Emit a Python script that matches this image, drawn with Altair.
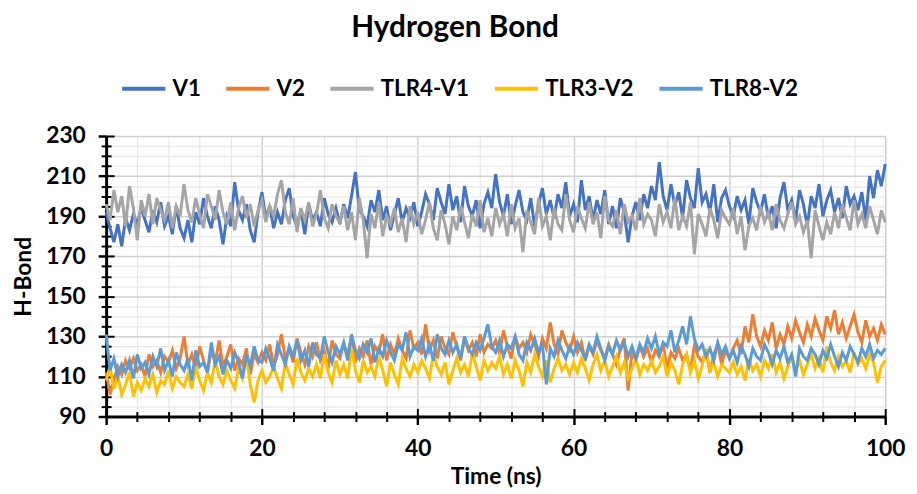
import altair as alt
import pandas as pd

series_names = ["V1", "V2", "TLR4-V1", "TLR3-V2", "TLR8-V2"]
series_colors = ["#4472C4", "#ED7D31", "#A5A5A5", "#FFC000", "#5B9BD5"]

time_ns = [i * 0.5 for i in range(201)]

v1 = [
    192,184,177,186,175,189,183,191,186,194,188,182,193,187,197,185,190,181,195,184,
    179,188,177,192,186,199,190,184,195,188,176,190,185,207,193,188,196,183,177,192,
    202,189,195,184,192,186,198,204,190,185,193,181,196,188,192,185,199,191,187,194,
    186,196,189,200,212,193,190,185,198,192,203,188,195,183,191,199,187,194,189,197,
    185,192,201,196,188,204,197,191,206,193,200,187,205,195,190,198,184,196,202,194,
    211,197,190,201,186,195,203,192,188,199,185,196,204,191,198,189,201,194,207,190,
    196,187,208,193,200,188,198,191,203,186,195,184,199,192,177,190,197,188,201,194,
    205,198,217,200,193,206,195,202,189,208,199,194,214,197,201,192,206,187,199,203,
    195,190,200,193,198,186,204,197,192,201,189,195,184,199,207,193,198,188,203,196,
    185,200,194,206,190,198,203,192,199,189,205,196,200,193,202,188,210,199,213,205,
    216,
]
v2 = [
    112,101,108,115,111,118,114,119,113,116,110,121,115,118,112,120,117,123,114,119,
    130,116,121,114,125,118,112,123,117,128,115,120,126,113,119,116,124,111,121,117,
    122,118,126,115,121,131,119,124,117,129,122,116,125,120,127,118,123,114,128,121,
    119,126,121,130,117,124,120,128,116,125,122,131,118,126,121,129,123,119,133,124,
    127,121,136,123,128,119,130,124,121,132,125,118,129,123,127,120,131,122,126,124,
    128,121,133,125,119,130,124,127,122,131,126,120,129,124,137,126,121,133,127,123,
    130,122,127,118,125,121,128,123,119,126,121,116,124,129,103,122,118,125,120,124,
    117,123,120,126,114,122,119,124,118,121,113,125,120,117,123,112,121,126,116,123,
    119,124,128,121,135,127,141,130,125,133,128,137,124,131,126,135,129,138,132,127,
    136,130,139,133,128,140,134,143,131,137,129,135,141,132,127,138,130,134,128,136,
    131,
]
tlr4_v1 = [
    196,188,203,192,200,185,205,194,178,198,190,201,186,199,193,188,197,184,195,190,
    206,193,187,199,191,184,201,195,188,203,192,186,197,183,194,200,189,196,185,193,
    198,187,195,190,201,208,192,186,199,182,194,188,197,185,191,203,189,184,196,190,
    187,195,183,192,178,199,188,169,191,184,197,180,190,186,194,182,189,177,195,186,
    192,181,188,197,184,178,193,186,176,190,183,195,187,179,191,185,198,182,189,180,
    194,186,191,180,196,184,189,172,193,187,181,199,185,190,178,194,186,183,201,188,
    182,195,189,184,197,186,192,179,200,188,185,193,181,196,187,190,183,199,186,191,
    188,180,196,187,192,184,199,183,190,185,197,171,191,186,180,194,188,179,193,189,
    186,194,181,190,173,185,189,183,195,187,192,183,196,188,184,191,197,186,190,182,
    188,169,193,185,178,187,181,192,184,196,189,183,198,186,191,184,195,188,181,193,
    187,
]
tlr3_v2 = [
    108,115,104,110,101,106,112,100,107,103,109,105,111,102,108,106,113,104,110,107,
    105,111,104,115,108,103,112,107,118,110,106,113,108,104,114,109,120,106,97,108,
    113,107,110,115,109,104,117,111,106,119,112,108,114,110,116,109,121,112,107,118,
    111,116,109,124,113,107,118,112,115,110,120,113,105,117,111,106,119,114,110,116,
    112,118,114,109,121,115,111,117,106,113,119,112,116,110,122,115,108,118,113,117,
    114,120,111,116,109,118,113,105,117,112,121,115,110,118,107,114,119,113,116,111,
    117,112,119,114,108,116,121,113,118,110,115,120,112,117,109,114,119,111,116,113,
    118,112,115,120,110,117,113,106,116,121,112,118,109,115,124,113,117,110,116,114,
    112,117,111,115,108,119,113,116,110,118,114,121,112,117,109,115,120,113,118,111,
    116,121,114,119,112,125,117,113,120,115,118,112,122,116,119,114,121,117,107,115,
    118,
]
tlr8_v2 = [
    131,113,119,110,116,112,118,109,121,114,117,111,120,115,124,113,118,110,122,116,
    113,119,108,123,115,117,112,127,116,120,111,118,114,122,117,109,121,115,125,118,
    117,124,119,113,126,121,116,125,120,128,118,123,115,127,121,119,130,122,117,125,
    121,127,118,131,123,119,126,122,129,117,124,120,128,122,118,126,123,132,120,125,
    123,129,120,126,118,131,124,121,128,122,126,119,130,124,121,127,123,129,136,125,
    122,128,120,126,124,130,121,118,127,123,129,122,126,106,124,120,128,123,119,125,
    121,127,123,119,126,122,130,124,118,125,121,128,123,127,120,125,119,126,122,129,
    124,130,121,127,125,133,122,128,135,126,140,129,123,126,120,124,118,127,121,125,
    119,123,117,125,121,115,124,120,118,126,122,116,123,119,125,117,121,110,124,120,
    118,124,121,116,123,119,126,120,115,122,118,125,121,117,124,120,126,119,123,121,
    124,
]

x_major_ticks = [0, 20, 40, 60, 80, 100]
x_minor_ticks = [4, 8, 12, 16, 24, 28, 32, 36, 44, 48, 52, 56, 64, 68, 72, 76, 84, 88, 92, 96]
y_major_ticks = [90, 110, 130, 150, 170, 190, 210, 230]
y_minor_ticks = [95, 100, 105, 115, 120, 125, 135, 140, 145, 155, 160, 165,
                 175, 180, 185, 195, 200, 205, 215, 220, 225]

all_values = [v1, v2, tlr4_v1, tlr3_v2, tlr8_v2]
rows = []
for name, vals in zip(series_names, all_values):
    for t, v in zip(time_ns, vals):
        rows.append({"t": t, "v": v, "series": name})
df = pd.DataFrame(rows)

W, H = 786, 283
FONT = "Lato"

xs = alt.Scale(domain=[0, 100], nice=False, zero=False)
ys = alt.Scale(domain=[90, 230], nice=False, zero=False)
cs = alt.Scale(domain=series_names, range=series_colors)

x_main = alt.Axis(values=x_major_ticks, orient="bottom", title="Time (ns)",
                  labelFont=FONT, labelFontWeight="bold", labelFontSize=23, labelColor="black",
                  labelPadding=13, labelFlush=False,
                  tickSize=8, tickWidth=2.5, tickColor="black",
                  domain=True, domainColor="black", domainWidth=3,
                  grid=True, gridColor="#d0d0d0", gridWidth=1.5,
                  titleFont=FONT, titleFontWeight="bold", titleFontSize=23, titleColor="black",
                  titlePadding=6)
y_main = alt.Axis(values=y_major_ticks, orient="left", title="H-Bond",
                  labelFont=FONT, labelFontWeight="bold", labelFontSize=23, labelColor="black",
                  labelPadding=13, labelFlush=False,
                  tickSize=8, tickWidth=2.5, tickColor="black",
                  domain=True, domainColor="black", domainWidth=3,
                  grid=True, gridColor="#d0d0d0", gridWidth=1.5,
                  titleFont=FONT, titleFontWeight="bold", titleFontSize=23, titleColor="black",
                  titlePadding=10)

legend = alt.Legend(orient="none", legendX=14, legendY=-72, direction="horizontal",
                    columns=5, title=None, padding=0,
                    symbolType="stroke", symbolStrokeWidth=4, symbolSize=1900,
                    labelFont=FONT, labelFontWeight="bold", labelFontSize=22.5, labelColor="black",
                    labelOffset=5, columnPadding=17)

base = alt.Chart(df)

layers = []
for i, name in enumerate(series_names):
    layers.append(
        base.transform_filter(alt.datum.series == name)
        .mark_line(strokeWidth=3)
        .encode(
            x=alt.X("t:Q", scale=xs, axis=x_main if i == 0 else None),
            y=alt.Y("v:Q", scale=ys, axis=y_main if i == 0 else None),
            color=alt.Color("series:N", scale=cs, legend=legend),
        )
    )

def tick_layer(xvals, yvals, size, grid, inner):
    xa = alt.Axis(values=xvals, orient="top" if inner else "bottom",
                  offset=-H if inner else 0, labels=False, domain=False, title=None,
                  tickSize=size, tickWidth=2, tickColor="black",
                  grid=grid, gridColor="#e8e8e8", gridWidth=1.2)
    ya = alt.Axis(values=yvals, orient="right" if inner else "left",
                  offset=-W if inner else 0, labels=False, domain=False, title=None,
                  tickSize=size, tickWidth=2, tickColor="black",
                  grid=grid, gridColor="#e8e8e8", gridWidth=1.2)
    return base.transform_filter(alt.datum.series == "V1").mark_point(opacity=0).encode(
        x=alt.X("t:Q", scale=xs, axis=xa),
        y=alt.Y("v:Q", scale=ys, axis=ya),
    )

minor_out = tick_layer(x_minor_ticks, y_minor_ticks, 5, True, False)
major_in = tick_layer(x_major_ticks, y_major_ticks, 8, False, True)
minor_in = tick_layer(x_minor_ticks, y_minor_ticks, 5, False, True)

chart = (
    alt.layer(*layers, minor_out, major_in, minor_in)
    .resolve_axis(x="independent", y="independent")
    .properties(
        width=W, height=H,
        autosize=alt.AutoSizeParams(type="none"),
        padding={"left": 99, "top": 127, "right": 24, "bottom": 76},
        title=alt.TitleParams("Hydrogen Bond", font=FONT, fontWeight="bold", fontSize=30,
                              color="black", anchor="middle", dx=-41, dy=-18),
    )
    .configure_view(stroke="black", strokeWidth=2)
    .configure(background="white")
)

chart.save("out.html", embed_options={"renderer": "svg", "actions": False})
